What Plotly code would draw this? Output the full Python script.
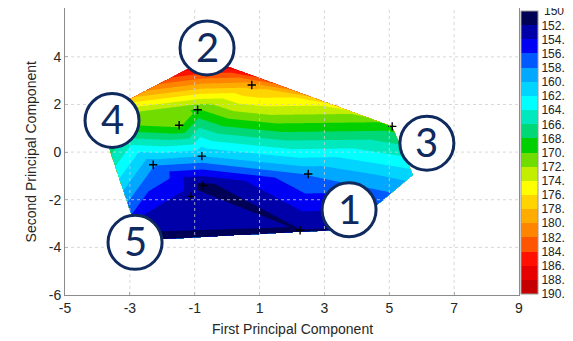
import numpy as np
import plotly.graph_objects as go

# ---- data -------------------------------------------------------------
# samples hidden under the numbered labels (hull corners)
corner_pc1 = [-0.62, -3.98, -2.69, 3.73, 5.73]
corner_pc2 = [3.92, 1.54, -3.71, -3.25, -0.96]
corner_val = [189.7, 172.5, 151.75, 151.8, 161.0]

# samples drawn with "+" markers
mark_pc1 = [0.76, -0.91, -1.48, 5.09, -0.78, -2.28, 2.50, -0.74, -1.11, 2.25]
mark_pc2 = [2.82, 1.78, 1.125, 1.08, -0.17, -0.53, -0.92, -1.40, -1.86, -3.28]
mark_val = [179.0, 169.8, 170.6, 169.0, 160.0, 158.3, 158.2, 151.2, 153.0, 151.9]

# numbered labels
label_text = ["1", "2", "3", "4", "5"]
label_pc1 = [3.76, -0.62, 6.16, -3.55, -2.84]
label_pc2 = [-2.42, 4.375, 0.375, 1.33, -3.79]

x_ticks = [-5, -3, -1, 1, 3, 5, 7, 9]
y_ticks = [-6, -4, -2, 0, 2, 4]
levels = list(range(150, 192, 2))

# colours of the bands 150-152, 152-154, ..., 188-190
band_colors = ["#000055", "#0000A8", "#0000F5", "#0058FF", "#00A8FF",
               "#00D4FF", "#00FFFF", "#00E8BE", "#00D878", "#00D000",
               "#70DC00", "#C4EE00", "#FFFF00", "#FFD400", "#FFAC00",
               "#FF8400", "#FF5500", "#FF1000", "#E60000", "#C40000"]

# ---- triangulation (Bowyer-Watson) -----------------------------------
px = np.array(corner_pc1 + mark_pc1, float)
py = np.array(corner_pc2 + mark_pc2, float)
pz = np.array(corner_val + mark_val, float)


def delaunay(xs, ys):
    pts = np.column_stack([xs, ys])
    n = len(pts)
    cx, cy = pts.mean(0)
    span = np.ptp(pts, axis=0).max() * 50
    sup = np.array([[cx - span, cy - span], [cx + span, cy - span], [cx, cy + span]])
    P = np.vstack([pts, sup])
    tris = [(n, n + 1, n + 2)]

    def circ(t):
        (ax, ay), (bx, by), (qx, qy) = P[list(t)]
        d = 2 * (ax * (by - qy) + bx * (qy - ay) + qx * (ay - by))
        ux = ((ax * ax + ay * ay) * (by - qy) + (bx * bx + by * by) * (qy - ay) + (qx * qx + qy * qy) * (ay - by)) / d
        uy = ((ax * ax + ay * ay) * (qx - bx) + (bx * bx + by * by) * (ax - qx) + (qx * qx + qy * qy) * (bx - ax)) / d
        return ux, uy, (ax - ux) ** 2 + (ay - uy) ** 2

    for i in range(n):
        x, y = P[i]
        bad = []
        for t in tris:
            ux, uy, r2 = circ(t)
            if (x - ux) ** 2 + (y - uy) ** 2 < r2:
                bad.append(t)
        edges = {}
        for t in bad:
            for e in ((t[0], t[1]), (t[1], t[2]), (t[2], t[0])):
                k = tuple(sorted(e))
                edges[k] = edges.get(k, 0) + 1
        tris = [t for t in tris if t not in bad]
        for (a, b), c in edges.items():
            if c == 1:
                tris.append((a, b, i))
    return [t for t in tris if max(t) < n]


tris = delaunay(px, py)

gx = np.linspace(px.min() - 0.05, px.max() + 0.05, 560)
gy = np.linspace(py.min() - 0.05, py.max() + 0.05, 420)
X, Y = np.meshgrid(gx, gy)
Z = np.full(X.shape, np.nan)
for a, b, c in tris:
    x1, y1, z1 = px[a], py[a], pz[a]
    x2, y2, z2 = px[b], py[b], pz[b]
    x3, y3, z3 = px[c], py[c], pz[c]
    det = (y2 - y3) * (x1 - x3) + (x3 - x2) * (y1 - y3)
    l1 = ((y2 - y3) * (X - x3) + (x3 - x2) * (Y - y3)) / det
    l2 = ((y3 - y1) * (X - x3) + (x1 - x3) * (Y - y3)) / det
    l3 = 1 - l1 - l2
    inside = (l1 >= -1e-9) & (l2 >= -1e-9) & (l3 >= -1e-9)
    Z[inside] = (l1 * z1 + l2 * z2 + l3 * z3)[inside]

# negate so that 150 sits at the top of the colour bar
Zn = -Z
nb = len(band_colors)
rev = band_colors[::-1]  # bins from -190 upwards
colorscale = []
for k, col in enumerate(rev):
    colorscale.append([k / nb, col])
    colorscale.append([(k + 1) / nb, col])

fig = go.Figure()
fig.add_trace(go.Contour(
    x=gx, y=gy, z=Zn,
    zmin=-levels[-1], zmax=-levels[0],
    contours=dict(start=-levels[-1], end=-levels[0], size=2, coloring="fill", showlines=False),
    line=dict(width=0),
    colorscale=colorscale,
    connectgaps=False,
    hoverinfo="skip",
    showscale=False,
))

# invisible copy of the field that carries the stepped colour bar
cb_font = dict(family="Liberation Sans", size=12, color="#222")
fig.add_trace(go.Heatmap(
    x=gx, y=gy, z=Zn, opacity=0, hoverinfo="skip",
    zmin=-levels[-1], zmax=-levels[0] + 0.08, colorscale=colorscale,
    colorbar=dict(
        tickmode="array",
        tickvals=[-v for v in levels[1:]],
        ticktext=[f"{v:.1f}" for v in levels[1:]],
        thickness=17, len=0.985, lenmode="fraction",
        x=1.004, xanchor="left", xpad=0,
        y=0.99, yanchor="top", ypad=0,
        outlinewidth=1, outlinecolor="#9a9a9a",
        ticks="", ticklen=0,
        tickfont=cb_font,
    ),
))

fig.add_trace(go.Scatter(
    x=mark_pc1, y=mark_pc2, mode="markers",
    marker=dict(symbol="cross-thin", size=6, line=dict(width=1.4, color="black")),
    hoverinfo="skip", showlegend=False,
))

grid_line = dict(color="rgba(205,205,205,0.8)", width=1, dash="dot")
shapes = []
for v in x_ticks[1:-1]:
    shapes.append(dict(type="line", xref="x", yref="paper", x0=v, x1=v, y0=0, y1=1,
                       line=grid_line, layer="above"))
for v in y_ticks[1:]:
    shapes.append(dict(type="line", xref="paper", yref="y", x0=0, x1=1, y0=v, y1=v,
                       line=grid_line, layer="above"))
navy = "#0F2A5E"
axis_font = dict(family="Liberation Sans", size=14, color="#262626")
annotations = []
for t, cx, cy in zip(label_text, label_pc1, label_pc2):
    shapes.append(dict(type="circle", xref="x", yref="y", xsizemode="pixel", ysizemode="pixel",
                       xanchor=cx, yanchor=cy, x0=-27, x1=27, y0=-27, y1=27,
                       fillcolor="white", line=dict(color=navy, width=3), layer="above"))
    annotations.append(dict(x=cx, y=cy, text=t, showarrow=False, xref="x", yref="y",
                            font=dict(family="Lato", size=40, color=navy), yshift=1))

# top colour-bar label (the bar's own end label is culled at the page top)
annotations.append(dict(text=f"{levels[0]:.1f}", xref="paper", yref="paper",
                        x=1.0525, y=0.9895, xanchor="left", yanchor="middle",
                        showarrow=False, font=cb_font, borderpad=0))

# axis titles
annotations.append(dict(text="First Principal Component", xref="paper", yref="paper",
                        x=0.5, y=-0.118, xanchor="center", yanchor="middle",
                        showarrow=False, font=axis_font))
annotations.append(dict(text="Second Principal Component", xref="paper", yref="paper",
                        x=-0.075, y=0.5, xanchor="center", yanchor="middle", textangle=-90,
                        showarrow=False, font=axis_font))

fig.update_layout(
    width=573, height=341,
    margin=dict(l=57, r=62, t=0, b=54, autoexpand=False),
    paper_bgcolor="white", plot_bgcolor="white",
    showlegend=False,
    shapes=shapes, annotations=annotations,
    xaxis=dict(range=[-5, 9], tickvals=x_ticks, ticktext=[str(v) for v in x_ticks],
               showgrid=False, zeroline=False, showline=True, mirror=True,
               linecolor="#8c8c8c", linewidth=1, ticks="inside", ticklen=3, tickcolor="#8c8c8c",
               tickfont=axis_font),
    yaxis=dict(range=[-6, 6.05], tickvals=y_ticks, ticktext=[str(v) for v in y_ticks],
               showgrid=False, zeroline=False, showline=True, mirror=True,
               linecolor="#8c8c8c", linewidth=1, ticks="inside", ticklen=3, tickcolor="#8c8c8c",
               tickfont=axis_font),
)

fig.write_html("out.html")
